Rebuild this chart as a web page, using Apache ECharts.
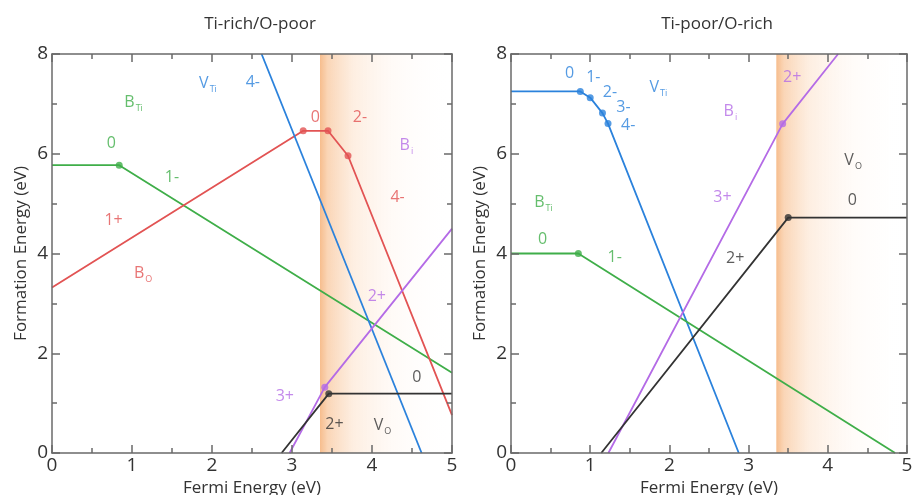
<!DOCTYPE html>
<html><head><meta charset="utf-8">
<script src="https://cdn.jsdelivr.net/npm/echarts@6/dist/echarts.min.js"></script>
<style>html,body{margin:0;padding:0;background:#fff}#c{width:913px;height:495px}</style>
</head><body><div id="c"></div>
<script>
// ---- data (Fermi energy eV, formation energy eV) ----
const panelTitles = ['Ti-rich/O-poor', 'Ti-poor/O-rich'];
const xTicks = [0, 1, 2, 3, 4, 5];
const yTicks = [0, 2, 4, 6, 8];
const bandEdge = 3.35; // band gap edge (shaded)

// Left panel: Ti-rich/O-poor
const leftBTi = [[0, 5.77], [0.84, 5.77], [5, 1.61]];
const leftBO  = [[0, 3.32], [3.14, 6.46], [3.45, 6.46], [3.70, 5.96], [5, 0.76]];
const leftVTi = [[2.62, 8], [4.62, 0]];
const leftBi  = [[2.97, 0], [3.41, 1.32], [5, 4.50]];
const leftVO  = [[2.87, 0], [3.46, 1.19], [5, 1.19]];

// Right panel: Ti-poor/O-rich
const rightVTi = [[0, 7.25], [0.875, 7.25], [1.0, 7.125], [1.155, 6.815], [1.225, 6.605], [2.876, 0]];
const rightBTi = [[0, 4.0], [0.85, 4.0], [4.85, 0]];
const rightBi  = [[1.23, 0], [3.43, 6.6], [4.13, 8.0]];
const rightVO  = [[1.14, 0], [3.50, 4.72], [5, 4.72]];

// annotation labels: [x, y, text, defect]
const leftLabels = [
  [1.02, 7.03, 'B{s|Ti}', 'BTi'], [0.74, 6.21, '0', 'BTi'], [1.50, 5.53, '1-', 'BTi'],
  [0.77, 4.67, '1+', 'BO'], [1.14, 3.61, 'B{s|O}', 'BO'], [3.29, 6.73, '0', 'BO'],
  [3.85, 6.73, '2-', 'BO'], [4.32, 5.13, '4-', 'BO'],
  [1.95, 7.41, 'V{s|Ti}', 'VTi'], [2.51, 7.43, '4-', 'VTi'],
  [4.43, 6.17, 'B{s|i}', 'Bi'], [4.06, 3.13, '2+', 'Bi'], [2.91, 1.14, '3+', 'Bi'],
  [4.56, 1.52, '0', 'VO'], [3.53, 0.58, '2+', 'VO'], [4.13, 0.56, 'V{s|O}', 'VO']
];
const rightLabels = [
  [0.74, 7.61, '0', 'VTi'], [1.04, 7.53, '1-', 'VTi'], [1.25, 7.23, '2-', 'VTi'],
  [1.42, 6.93, '3-', 'VTi'], [1.48, 6.57, '4-', 'VTi'], [1.86, 7.33, 'V{s|Ti}', 'VTi'],
  [3.55, 7.53, '2+', 'Bi'], [2.77, 6.85, 'B{s|i}', 'Bi'], [2.67, 5.13, '3+', 'Bi'],
  [4.32, 5.87, 'V{s|O}', 'VO'], [4.31, 5.07, '0', 'VO'], [2.83, 3.91, '2+', 'VO'],
  [0.41, 5.03, 'B{s|Ti}', 'BTi'], [0.40, 4.29, '0', 'BTi'], [1.31, 3.93, '1-', 'BTi']
];

const colors = { BTi: '#3fae49', BO: '#e25353', VTi: '#2b82dc', Bi: '#b46be6', VO: '#333333' };
const FONT = 'Open Sans';
const AX = '#6a6a6a';

const grids = [
  { left: 52, right: 461, top: 54, bottom: 42, containLabel: false, outerBoundsMode: 'none' },
  { left: 511, right: 6, top: 54, bottom: 42, containLabel: false, outerBoundsMode: 'none' }
];

const xAxes = [], yAxes = [], series = [], titles = [];
const axisCommon = (extra) => Object.assign({
  type: 'value', z: 10, zlevel: 1,
  axisLine: { show: true, onZero: false, lineStyle: { color: AX, width: 1.5 } },
  axisTick: { show: true, inside: true, length: 8, lineStyle: { color: AX, width: 1.5 } },
  minorTick: { show: true, splitNumber: 2, length: 5, lineStyle: { color: AX, width: 1.5 } },
  splitLine: { show: false }
}, extra);

[0, 1].forEach(g => {
  xAxes.push(axisCommon({ gridIndex: g, min: 0, max: 5, interval: 1, position: 'bottom',
    name: 'Fermi Energy (eV)', nameLocation: 'middle', nameGap: 23,
    nameTextStyle: { fontFamily: FONT, fontSize: 17, color: '#333' },
    axisLabel: { fontFamily: FONT, fontSize: 19, color: '#333', margin: 3 } }));
  xAxes.push(axisCommon({ gridIndex: g, min: 0, max: 5, interval: 1, position: 'top', axisLabel: { show: false } }));
  yAxes.push(axisCommon({ gridIndex: g, min: 0, max: 8, interval: 2, position: 'left',
    name: 'Formation Energy (eV)', nameLocation: 'middle', nameGap: 22,
    nameTextStyle: { fontFamily: FONT, fontSize: 17, color: '#333' },
    axisLabel: { fontFamily: FONT, fontSize: 19, color: '#333', margin: 4 } }));
  yAxes.push(axisCommon({ gridIndex: g, min: 0, max: 8, interval: 2, position: 'right', axisLabel: { show: false } }));
  const gl = grids[g];
  const cx = (gl.left + (913 - gl.right)) / 2 + 3;
  titles.push({ text: panelTitles[g], left: cx, top: 11, textAlign: 'center',
    textStyle: { fontFamily: FONT, fontSize: 17, fontWeight: 'normal', color: '#333' } });
});

function addPanel(g, defects, labels) {
  const xi = g * 2, yi = g * 2;
  // shaded band
  series.push({
    type: 'line', xAxisIndex: xi, yAxisIndex: yi, data: [[bandEdge, 0]], showSymbol: false, z: 1, silent: true,
    lineStyle: { opacity: 0 },
    markArea: { silent: true, data: [[{ xAxis: bandEdge, yAxis: 0 }, { xAxis: 5, yAxis: 8 }]],
      itemStyle: { color: new echarts.graphic.LinearGradient(0, 0, 1, 0, [
        { offset: 0, color: 'rgba(244,172,112,0.8)' },
        { offset: 0.06, color: 'rgba(248,196,152,0.7)' },
        { offset: 0.25, color: 'rgba(252,224,200,0.55)' },
        { offset: 0.55, color: 'rgba(255,242,232,0.35)' },
        { offset: 1, color: 'rgba(255,255,255,0)' }]) } }
  });
  defects.forEach(([key, pts]) => {
    series.push({ type: 'line', xAxisIndex: xi, yAxisIndex: yi, data: pts, showSymbol: false,
      lineStyle: { color: colors[key], width: 1.8 }, z: 3, clip: true });
    series.push({ type: 'scatter', xAxisIndex: xi, yAxisIndex: yi, data: pts.slice(1, -1),
      symbolSize: 7, itemStyle: { color: colors[key] }, z: 4 });
  });
  labels.forEach(([x, y, t, key]) => {
    series.push({ type: 'scatter', xAxisIndex: xi, yAxisIndex: yi, data: [[x, y]], symbolSize: 0, z: 5,
      label: { show: true, position: 'inside', formatter: t, color: colors[key],
        fontFamily: FONT, fontSize: 16,
        rich: { s: { fontSize: 9, color: colors[key], fontFamily: FONT, verticalAlign: 'bottom', padding: [12, 0, 0, 1] } } } });
  });
}
addPanel(0, [['BTi', leftBTi], ['BO', leftBO], ['VTi', leftVTi], ['Bi', leftBi], ['VO', leftVO]], leftLabels);
addPanel(1, [['VTi', rightVTi], ['BTi', rightBTi], ['Bi', rightBi], ['VO', rightVO]], rightLabels);

const chart = echarts.init(document.getElementById('c'));
chart.setOption({ animation: false, title: titles, grid: grids, xAxis: xAxes, yAxis: yAxes, series: series });
</script></body></html>
